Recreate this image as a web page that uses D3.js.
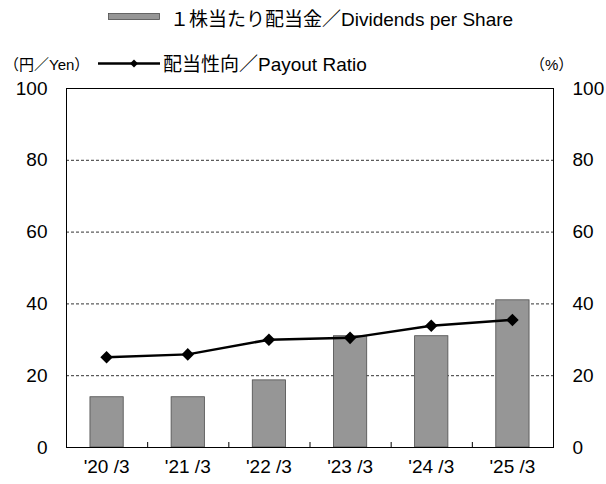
<!DOCTYPE html>
<html>
<head>
<meta charset="utf-8">
<script src="https://cdn.jsdelivr.net/npm/d3@7"></script>
<style>
  body { margin: 0; background: #fff; }
  text { font-family: "Liberation Sans", Arial, "Noto Sans CJK JP", sans-serif; fill: #000; }
</style>
</head>
<body>
<svg id="main" width="606" height="484"></svg>
<script>
const categories = ["'20 /3", "'21 /3", "'22 /3", "'23 /3", "'24 /3", "'25 /3"];
const dividends = [14, 14, 18.7, 31, 31, 41];
const payout = [25.0, 25.8, 29.9, 30.4, 33.8, 35.4];
const yTicks = [0, 20, 40, 60, 80, 100];

function draw() {
    const svg = d3.select("#main");
    const left = 66, right = 553, top = 88, bottom = 447;

    const x = d3.scaleBand().domain(categories).range([left, right]).paddingInner(0).paddingOuter(0);
    const yL = d3.scaleLinear().domain([0, 100]).range([bottom, top]);
    const yR = d3.scaleLinear().domain([0, 100]).range([bottom, top]);

    // gridlines
    svg.append('g')
        .selectAll('line')
        .data(yTicks.filter(d => d > 0 && d < 100))
        .join('line')
        .attr('x1', left).attr('x2', right)
        .attr('y1', d => yL(d) + 0.5).attr('y2', d => yL(d) + 0.5)
        .attr('stroke', '#333')
        .attr('stroke-width', 1)
        .attr('stroke-dasharray', '3,2');

    // bars
    const bw = x.bandwidth() * 0.41;
    svg.append('g')
        .selectAll('rect')
        .data(dividends)
        .join('rect')
        .attr('x', (d, i) => x(categories[i]) + (x.bandwidth() - bw) / 2)
        .attr('y', d => yL(d))
        .attr('width', bw)
        .attr('height', d => bottom - yL(d))
        .attr('fill', '#969696')
        .attr('stroke', '#4d4d4d')
        .attr('stroke-width', 0.8);

    // frame
    svg.append('rect')
        .attr('x', left + 0.5).attr('y', top + 0.5)
        .attr('width', right - left).attr('height', bottom - top)
        .attr('fill', 'none')
        .attr('stroke', '#000')
        .attr('stroke-width', 1);

    // axes
    const axL = svg.append('g').attr('transform', `translate(${left + 0.5},0)`)
        .call(d3.axisLeft(yL).tickValues(yTicks).tickSize(0).tickPadding(19));
    const axR = svg.append('g').attr('transform', `translate(${right + 0.5},0)`)
        .call(d3.axisRight(yR).tickValues(yTicks).tickSize(0).tickPadding(19));
    [axL, axR].forEach(a => {
        a.select('.domain').remove();
        a.selectAll('text').style('font-size', '19px').attr('font-family', null);
    });

    // x axis ticks (inward, at category boundaries)
    svg.append('g')
        .selectAll('line')
        .data(categories.slice(1))
        .join('line')
        .attr('x1', d => x(d) + 0.5).attr('x2', d => x(d) + 0.5)
        .attr('y1', bottom).attr('y2', bottom - 5)
        .attr('stroke', '#000');

    const axB = svg.append('g').attr('transform', `translate(0,${bottom})`)
        .call(d3.axisBottom(x).tickSize(0).tickPadding(13));
    axB.select('.domain').remove();
    axB.selectAll('text').style('font-size', '19px').attr('font-family', null);

    // line
    const pts = payout.map((v, i) => [x(categories[i]) + x.bandwidth() / 2, yR(v)]);
    svg.append('path')
        .attr('d', d3.line()(pts))
        .attr('fill', 'none')
        .attr('stroke', '#000')
        .attr('stroke-width', 2.5);
    const diamond = d3.symbol().type(d3.symbolDiamond2).size(100);
    svg.append('g')
        .selectAll('path')
        .data(pts)
        .join('path')
        .attr('d', diamond)
        .attr('transform', d => `translate(${d[0]},${d[1]})`)
        .attr('fill', '#000');

    // legend
    svg.append('rect')
        .attr('x', 108.5).attr('y', 13.5).attr('width', 51).attr('height', 6)
        .attr('fill', '#969696').attr('stroke', '#4d4d4d').attr('stroke-width', 0.8);
    svg.append('text')
        .attr('x', 170).attr('y', 26)
        .style('font-size', '19px')
        .text('１株当たり配当金／Dividends per Share');

    svg.append('line')
        .attr('x1', 98).attr('x2', 160).attr('y1', 63.5).attr('y2', 63.5)
        .attr('stroke', '#000').attr('stroke-width', 2.5);
    svg.append('path')
        .attr('d', d3.symbol().type(d3.symbolDiamond2).size(40))
        .attr('transform', 'translate(134,63.5)')
        .attr('fill', '#000');
    svg.append('text')
        .attr('x', 163).attr('y', 71)
        .style('font-size', '19px')
        .text('配当性向／Payout Ratio');

    svg.append('text')
        .attr('x', 4).attr('y', 70)
        .style('font-size', '15px')
        .text('（円／Yen）');
    svg.append('text')
        .attr('x', 530).attr('y', 70)
        .style('font-size', '15px')
        .text('（%）');
}

draw()
</script>
</body>
</html>
